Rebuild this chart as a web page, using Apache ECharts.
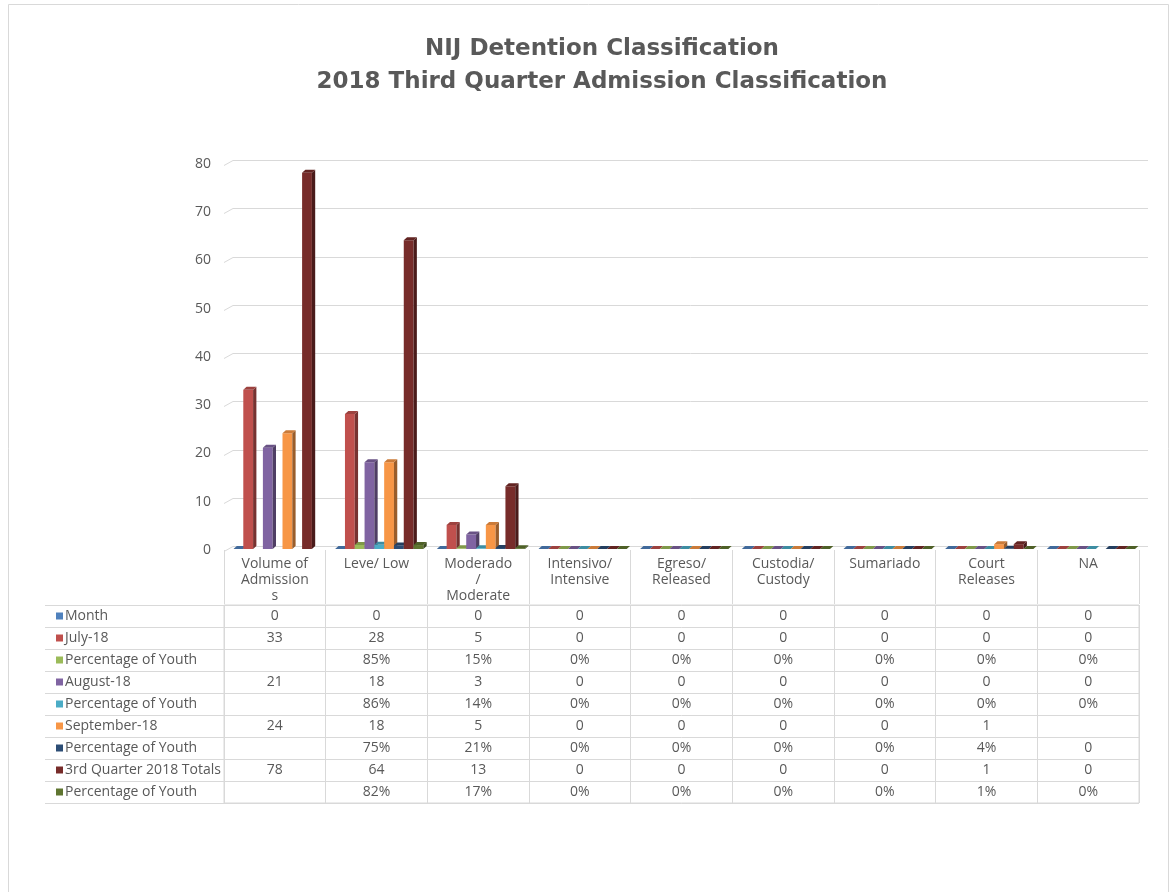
<!DOCTYPE html>
<html>
<head>
<meta charset="utf-8">
<script src="https://cdn.jsdelivr.net/npm/echarts@6/dist/echarts.min.js"></script>
<style>
  html, body { margin: 0; padding: 0; background: #fff; }
  #chart { width: 1174px; height: 892px; }
</style>
</head>
<body>
<div id="chart"></div>
<script>
// Classification columns (header text keeps the wrapping used in the data table)
const categories = ['Volume of\nAdmission\ns', 'Leve/ Low', 'Moderado\n/\nModerate', 'Intensivo/\nIntensive',
  'Egreso/\nReleased', 'Custodia/\nCustody', 'Sumariado', 'Court\nReleases', 'NA'];

const seriesNames = ['Month', 'July-18', 'Percentage of Youth', 'August-18', 'Percentage of Youth',
  'September-18', 'Percentage of Youth', '3rd Quarter 2018 Totals', 'Percentage of Youth'];

// Counts per classification (null = empty cell)
const month        = [0, 0, 0, 0, 0, 0, 0, 0, 0];
const july         = [33, 28, 5, 0, 0, 0, 0, 0, 0];
const julyPct      = [null, 0.85, 0.15, 0, 0, 0, 0, 0, 0];
const august       = [21, 18, 3, 0, 0, 0, 0, 0, 0];
const augustPct    = [null, 0.86, 0.14, 0, 0, 0, 0, 0, 0];
const september    = [24, 18, 5, 0, 0, 0, 0, 1, null];
const septemberPct = [null, 0.75, 0.21, 0, 0, 0, 0, 0.04, 0];
const totals       = [78, 64, 13, 0, 0, 0, 0, 1, 0];
const totalsPct    = [null, 0.82, 0.17, 0, 0, 0, 0, 0.01, 0];

const yTicks = { min: 0, max: 80, interval: 10 };

const seriesColors = ['#4F81BD', '#C0504D', '#9BBB59', '#8064A2', '#4BACC6',
  '#F79646', '#2C4D75', '#772C2A', '#5F7530'];

// rows whose cells are shown as percentages
const percentRows = [2, 4, 6, 8];
// [row, column] cells shown as plain numbers even inside a percentage row
const plainCells = [[6, 8]];

const rows = [month, july, julyPct, august, augustPct, september, septemberPct, totals, totalsPct];

function shade(hex, f) {
  const n = parseInt(hex.slice(1), 16);
  const r = Math.round(((n >> 16) & 255) * f);
  const g = Math.round(((n >> 8) & 255) * f);
  const b = Math.round((n & 255) * f);
  return 'rgb(' + r + ',' + g + ',' + b + ')';
}

function cellText(r, c) {
  const v = rows[r][c];
  if (v == null) return '';
  const plain = plainCells.some(p => p[0] === r && p[1] === c);
  if (percentRows.indexOf(r) >= 0 && !plain) return Math.round(v * 100) + '%';
  return String(v);
}

const FONT = '"Open Sans", "DejaVu Sans", sans-serif';
const FONT_SIZE = 14;
const TEXT = '#595959';
const LINE = '#d9d9d9';

// Column with a small depth: front face, darker right side, top cap
function columnRenderer(s) {
  return function (params, api) {
    const v = api.value(1);
    if (v == null || isNaN(v)) return;
    const cat = api.value(0);
    const base = api.coord([cat, 0]);
    const top = api.coord([cat, v]);
    const catW = api.size([1, 0])[0];
    const slot = catW * 0.0964;
    const x0 = base[0] - catW / 2 + catW * 0.0934 + s * slot;
    const w = slot;
    const dx = 3.3, dy = 3;
    const yb = base[1] - 1, yt = top[1] - 1;
    const c = seriesColors[s];
    return {
      type: 'group',
      children: [
        { type: 'rect', shape: { x: x0, y: yt, width: w, height: yb - yt }, style: { fill: c } },
        { type: 'polygon', shape: { points: [[x0 + w, yt], [x0 + w + dx, yt - dy], [x0 + w + dx, yb - dy], [x0 + w, yb]] },
          style: { fill: shade(c, 0.62) } },
        { type: 'polygon', shape: { points: [[x0, yt], [x0 + dx, yt - dy], [x0 + w + dx, yt - dy], [x0 + w, yt]] },
          style: { fill: shade(c, 0.82) } }
      ]
    };
  };
}

// Back-wall gridlines with their slanted side-wall segment
function wallRenderer(params, api) {
  const cs = params.coordSys;
  const y = Math.round(api.coord([0, api.value(1)])[1]) + 0.5;
  return {
    type: 'polyline',
    shape: { points: [[cs.x, y + 1], [cs.x + 9, y - 4], [cs.x + cs.width + 9, y - 4]] },
    style: { stroke: LINE, lineWidth: 1, fill: null },
    silent: true
  };
}

// Data table cell text
function cellRenderer(params, api) {
  const p = api.coord([api.value(0), api.value(1)]);
  return {
    type: 'text',
    x: p[0], y: p[1],
    style: { text: cellTable[params.dataIndex][2], fill: TEXT, fontSize: FONT_SIZE, fontFamily: FONT,
      align: 'center', verticalAlign: 'middle' }
  };
}

const cellTable = [];
rows.forEach((row, r) => row.forEach((v, c) => cellTable.push([c, r, cellText(r, c)])));

const wallData = [];
for (let v = yTicks.min; v <= yTicks.max; v += yTicks.interval) wallData.push([0, v]);

const legendRich = { t: { color: TEXT, fontSize: FONT_SIZE, fontFamily: FONT, padding: [0, 0, 0, 2] } };
seriesColors.forEach((c, i) => { legendRich['s' + i] = { width: 7, height: 7, backgroundColor: c }; });

const series = [
  { type: 'custom', name: 'wall', xAxisIndex: 0, yAxisIndex: 0, renderItem: wallRenderer, data: wallData, z: 1, silent: true }
];
rows.forEach((row, s) => {
  series.push({
    type: 'custom',
    name: seriesNames[s],
    xAxisIndex: 0, yAxisIndex: 0,
    renderItem: columnRenderer(s),
    data: row.map((v, i) => [i, v == null ? NaN : v]),
    z: 2 + s
  });
});
series.push({ type: 'custom', name: 'table', xAxisIndex: 1, yAxisIndex: 1, renderItem: cellRenderer,
  data: cellTable.map(d => [d[0], d[1]]), z: 3, silent: true });

const option = {
  backgroundColor: '#ffffff',
  animation: false,
  title: {
    text: 'NIJ Detention Classification\n2018 Third Quarter Admission Classification',
    left: 602, top: 33, padding: 0, textAlign: 'center',
    textStyle: { color: TEXT, fontSize: 23, fontWeight: 'bold', fontFamily: '"DejaVu Sans", sans-serif', lineHeight: 33 }
  },
  graphic: [
    { type: 'rect', shape: { x: 8.5, y: 4.5, width: 1160, height: 900 }, style: { fill: 'none', stroke: LINE, lineWidth: 1 }, silent: true, z: -1 }
  ],
  grid: [
    { left: 224, top: 164, width: 915, height: 386 },
    { left: 224, top: 605, width: 915, height: 198, show: true, borderColor: LINE, borderWidth: 1 }
  ],
  xAxis: [
    {
      gridIndex: 0, type: 'category', data: categories,
      axisLine: { show: false },
      axisTick: { show: true, length: 54, alignWithLabel: false, lineStyle: { color: LINE } },
      axisLabel: { interval: 0, margin: 6, color: TEXT, fontSize: FONT_SIZE, fontFamily: FONT, lineHeight: 16 },
      splitLine: { show: false }
    },
    {
      gridIndex: 1, type: 'category', data: categories,
      axisLine: { show: false }, axisTick: { show: false }, axisLabel: { show: false },
      splitLine: { show: true, lineStyle: { color: LINE } }
    }
  ],
  yAxis: [
    {
      gridIndex: 0, type: 'value', min: yTicks.min, max: yTicks.max, interval: yTicks.interval,
      axisLine: { show: false }, axisTick: { show: false },
      axisLabel: { margin: 13, color: TEXT, fontSize: FONT_SIZE, fontFamily: FONT },
      splitLine: { show: false }
    },
    {
      gridIndex: 1, type: 'category', inverse: true, data: seriesNames.map((n, i) => String(i)),
      axisLine: { show: false },
      axisTick: { show: true, length: 179, alignWithLabel: false, lineStyle: { color: LINE } },
      axisLabel: {
        interval: 0, margin: 168, align: 'left',
        formatter: (v, i) => '{s' + i + '|}{t|' + seriesNames[i] + '}',
        rich: legendRich
      },
      splitLine: { show: true, lineStyle: { color: LINE } }
    },
    {
      gridIndex: 1, type: 'category', inverse: true, data: seriesNames.map((n, i) => String(i)), offset: 179,
      axisLine: { show: true, lineStyle: { color: LINE } }, axisTick: { show: false }, axisLabel: { show: false },
      splitLine: { show: false }
    }
  ],
  series: series
};

const chart = echarts.init(document.getElementById('chart'), null, { renderer: 'canvas' });
chart.setOption(option);
</script>
</body>
</html>
